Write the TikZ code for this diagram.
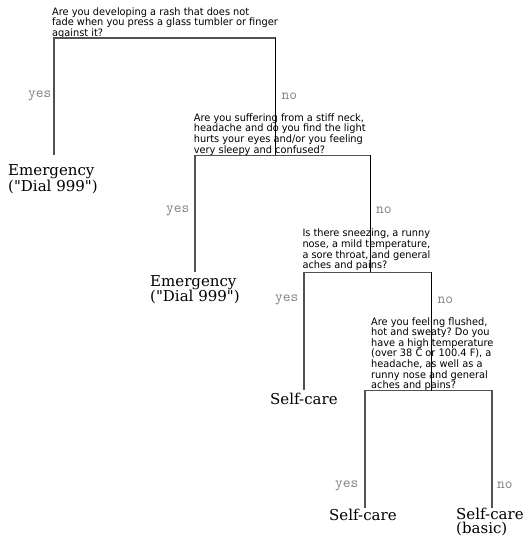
\documentclass[tikz,border=0pt]{standalone}
\usepackage{fontspec}
\newfontfamily\qfont[FakeStretch=0.96]{DejaVu Sans}
\newfontfamily\leaffont{DejaVu Serif}
\frenchspacing
\begin{document}
\begin{tikzpicture}[x=1pt,y=-1pt,
  question/.style={anchor=base west,inner sep=0pt,font=\qfont\fontsize{10.2}{9.7}\selectfont\frenchspacing},
  leaf/.style={anchor=base west,inner sep=0pt,font=\leaffont\fontsize{15}{15}\selectfont},
  answer/.style={inner sep=0pt,text=black!50,font=\ttfamily\fontsize{15}{15}\selectfont},
  yesans/.style={answer,anchor=base east},
  noans/.style={answer,anchor=base west},
  bracket/.style={draw=black!68,line width=1.5pt},
  link/.style={draw=black,line width=1pt}]
\useasboundingbox (0,0) rectangle (524,537);

% questions
\node[question] (q1) at (52,15.3) {\begin{tabular}[t]{@{}l@{}}Are you developing a rash that does not\\fade when you press a glass tumbler or finger\\against it?\end{tabular}};
\node[question] (q2) at (193.7,121.3) {\begin{tabular}[t]{@{}l@{}}Are you suffering from a stiff neck,\\headache and do you find the light\\hurts your eyes and/or you feeling\\very sleepy and confused?\end{tabular}};
\node[question] (q3) at (302.3,236.7) {\begin{tabular}[t]{@{}l@{}}Is there sneezing, a runny\\nose, a mild temperature,\\a sore throat, and general\\aches and pains?\end{tabular}};
\node[question] (q4) at (371,325) {\begin{tabular}[t]{@{}l@{}}Are you feeling flushed,\\hot and sweaty? Do you\\have a high temperature\\(over 38 C or 100.4 F), a\\headache, as well as a\\runny nose and general\\aches and pains?\end{tabular}};

% leaves
\node[leaf] (e1) at (8,175.5) {\begin{tabular}[t]{@{}l@{}}Emergency\\("Dial 999")\end{tabular}};
\node[leaf] (e2) at (150,286) {\begin{tabular}[t]{@{}l@{}}Emergency\\("Dial 999")\end{tabular}};
\node[leaf] (s1) at (270,404) {Self-care};
\node[leaf] (s2) at (329,520) {Self-care};
\node[leaf] (s3) at (456,519.5) {\begin{tabular}[t]{@{}l@{}}Self-care\\[-1.5pt](basic)\end{tabular}};

% bracket corners
\coordinate (q1l) at (54,38);   \coordinate (q1r) at (275.5,38);
\coordinate (q2l) at (195,155.3); \coordinate (q2r) at (370,155.3);
\coordinate (q3l) at (304,272.3); \coordinate (q3r) at (431,272.3);
\coordinate (q4l) at (365,390.7); \coordinate (q4r) at (492,390.7);
% leg ends above leaves
\coordinate (e1t) at (54,155);
\coordinate (e2t) at (195,272);
\coordinate (s1t) at (304,389.5);
\coordinate (s2t) at (365,508);
\coordinate (s3t) at (492,508);

% gray brackets
\draw[bracket] (e1t) -- (q1l) -- (q1r);
\draw[bracket] (e2t) -- (q2l) -- (q2r);
\draw[bracket] (s1t) -- (q3l) -- (q3r);
\draw[bracket] (s2t) -- (q4l) -- (q4r) -- (s3t);

% links between questions
\draw[link] (q1r) -- (q1r |- q2r);
\draw[link] (q2r) -- (q2r |- q3r);
\draw[link] (q3r) -- (q3r |- q4r);

% answers
\node[yesans] (y1) at (51.5,97.7) {yes};
\node[noans] (n1) at (281.5,99.3) {no};
\node[yesans] (y2) at (189.5,212.3) {yes};
\node[noans] (n2) at (376,213.7) {no};
\node[yesans] (y3) at (298.5,301.7) {yes};
\node[noans] (n3) at (437.5,303.3) {no};
\node[yesans] (y4) at (358.5,487.3) {yes};
\node[noans] (n4) at (497,488.7) {no};
\end{tikzpicture}
\end{document}
